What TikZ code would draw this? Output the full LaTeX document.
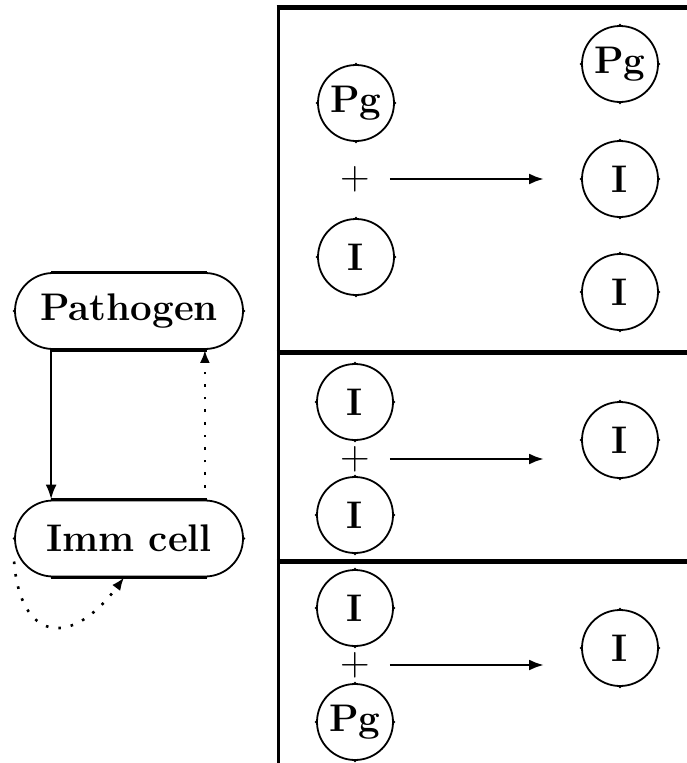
\documentclass[tikz,border=0pt]{standalone}
\usepackage{fontspec}
\usetikzlibrary{arrows.meta}
\begin{document}
\begin{tikzpicture}[x=1pt,y=-1pt,
  lbl/.style={font=\fontsize{38.5}{42}\selectfont\bfseries},
  cell/.style={circle,draw,line width=1.8pt,minimum size=76pt,inner sep=0pt,lbl},
  stad/.style={draw,line width=1.8pt,rounded corners=38pt,minimum width=228pt,minimum height=76pt,inner sep=0pt,lbl},
  plussign/.style={inner sep=0pt,font=\fontsize{41}{44}\selectfont},
  flow/.style={line width=2.8pt,-{Latex[length=15pt,width=11pt]}},
  dotflow/.style={line width=2.6pt,dash pattern=on 2.6pt off 10pt,-{Latex[length=13pt,width=10pt]}},
  framebar/.style={line width=5pt},
  flat/.style={line width=3.2pt}
]
\useasboundingbox (0,0) rectangle (687,763);

% frame
\draw[line width=3pt] (278,5) -- (278,763);
\draw[framebar] (276.5,7.5) -- (687,7.5);
\draw[framebar] (276.5,352) -- (687,352);
\draw[framebar] (276.5,561) -- (687,561);

% left graph
\node[stad] (P) at (129,311) {Pathogen};
\node[stad] (M) at (129,538.5) {Imm cell};
\foreach \n in {P,M}{
  \draw[flat] ([xshift=37pt]\n.north west) -- ([xshift=-37pt]\n.north east);
  \draw[flat] ([xshift=37pt]\n.south west) -- ([xshift=-37pt]\n.south east);
  \fill (\n.west) circle (1.4pt);
  \fill (\n.east) circle (1.4pt);
}
\draw[line width=2.6pt,-{Latex[length=15pt,width=11pt]}] ([xshift=37pt]P.south west) -- ([xshift=37pt]M.north west);
\draw[dotflow,shorten <=12pt] ([xshift=-39pt]M.north east) -- ([xshift=-39pt]P.south east);
\coordinate (loopstart) at ([yshift=-23pt]M.west);
\draw[dotflow] (loopstart) .. controls (20,640) and (70,650) .. ([xshift=110pt]M.south west);

% panel 1
\node[cell] (a1) at (356,103) {Pg};
\node[plussign] (p1) at (355,179) {+};
\node[cell] (a2) at (356,257) {I};
\node[cell] (r1) at (620,64) {Pg};
\node[cell] (r2) at (620,179) {I};
\node[cell] (r3) at (620,292) {I};
\draw[flow,shorten <=20pt,shorten >=37pt] (p1.east) -- (p1.east -| r2.west);

% panel 2
\node[cell] (b1) at (355,402) {I};
\node[plussign] (p2) at (355,459) {+};
\node[cell] (b2) at (355,515) {I};
\node[cell] (s1) at (620,440) {I};
\draw[flow,shorten <=20pt,shorten >=37pt] (p2.east) -- (p2.east -| s1.west);

% panel 3
\node[cell] (c1) at (355,608) {I};
\node[plussign] (p3) at (355,665) {+};
\node[cell] (c2) at (355,722) {Pg};
\node[cell] (t1) at (620,648) {I};
\draw[flow,shorten <=20pt,shorten >=37pt] (p3.east) -- (p3.east -| t1.west);

% compass ticks on circles
\foreach \n in {a1,a2,r1,r2,r3,b1,b2,s1,c1,c2,t1}{
  \foreach \a in {north,south,east,west}{
    \fill (\n.\a) circle (1.4pt);
  }
}
\end{tikzpicture}
\end{document}
